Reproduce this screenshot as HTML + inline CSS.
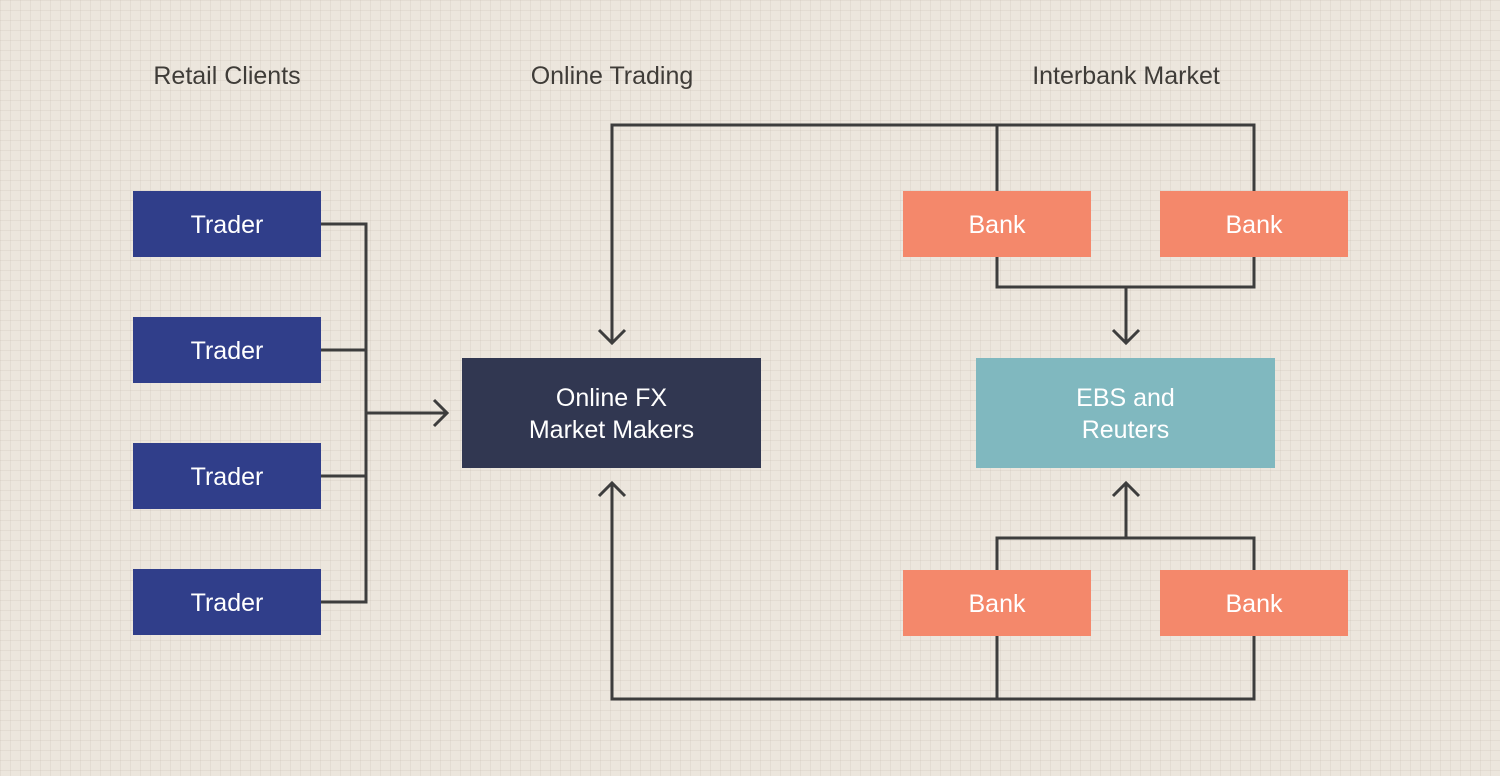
<!DOCTYPE html>
<html><head><meta charset="utf-8"><style>
html,body{margin:0;padding:0}
body{width:1500px;height:776px;background-color:#ece6dd;background-image:linear-gradient(rgba(200,190,178,.25) 1px,transparent 1px),linear-gradient(90deg,rgba(200,190,178,.25) 1px,transparent 1px);background-size:10px 10px;position:relative;font-family:"Liberation Sans",sans-serif;overflow:hidden}
.h{position:absolute;top:62px;font-size:25px;color:#3f3c38;transform:translateX(-50%);white-space:nowrap}
.b{position:absolute;display:flex;align-items:center;justify-content:center;text-align:center;color:#fff;font-size:25px;line-height:32px;padding-top:2px;box-sizing:border-box}
.t{background:#303e8a;width:188px;height:66px;left:133px}
.k{background:#f4886b;width:188px;height:66px}
svg{position:absolute;left:0;top:0}
</style></head><body>
<div class="h" style="left:227px">Retail Clients</div>
<div class="h" style="left:612px">Online Trading</div>
<div class="h" style="left:1126px">Interbank Market</div>
<svg width="1500" height="776" fill="none" stroke="#3d3d3d" stroke-width="3">
<path d="M321 224H366V602H321M321 350H366M321 476H366M366 413H446"/>
<path d="M434 400L447 413L434 426"/>
<path d="M612 343V125H1254V191M997 125V191"/>
<path d="M599 330L612 343L625 330"/>
<path d="M997 257V287H1254V257M1126 287V343"/>
<path d="M1113 330L1126 343L1139 330"/>
<path d="M997 570V538H1254V570M1126 538V483"/>
<path d="M1113 496L1126 483L1139 496"/>
<path d="M612 483V699H1254V636M997 636V699"/>
<path d="M599 496L612 483L625 496"/>
</svg>
<div class="b t" style="top:191px">Trader</div>
<div class="b t" style="top:317px">Trader</div>
<div class="b t" style="top:443px">Trader</div>
<div class="b t" style="top:569px">Trader</div>
<div class="b" style="left:462px;top:358px;width:299px;height:110px;background:#313751">Online FX<br>Market Makers</div>
<div class="b" style="left:976px;top:358px;width:299px;height:110px;background:#80b8bf">EBS and<br>Reuters</div>
<div class="b k" style="left:903px;top:191px">Bank</div>
<div class="b k" style="left:1160px;top:191px">Bank</div>
<div class="b k" style="left:903px;top:570px">Bank</div>
<div class="b k" style="left:1160px;top:570px">Bank</div>
</body></html>
